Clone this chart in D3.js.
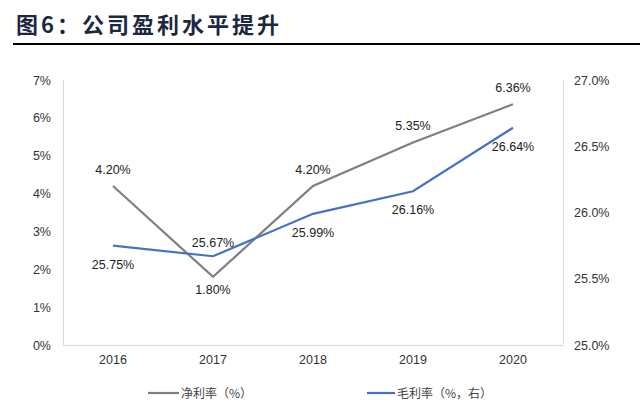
<!DOCTYPE html>
<html><head><meta charset="utf-8">
<script src="https://cdn.jsdelivr.net/npm/d3@7/dist/d3.min.js"></script>
<style>body{margin:0;background:#fff}svg{display:block}</style>
</head><body>
<svg id="c" width="640" height="419"></svg>
<script>
const years = ["2016","2017","2018","2019","2020"];
const netMargin = [4.20, 1.80, 4.20, 5.35, 6.36];
const grossMargin = [25.75, 25.67, 25.99, 26.16, 26.64];
const leftTicks = [0,1,2,3,4,5,6,7];
const rightTicks = [25.0,25.5,26.0,26.5,27.0];
const netLabelPos = ["above","below","above","above","above"];
const grossLabelPos = ["below","above","below","below","below"];
const seriesNames = ["净利率（%）","毛利率（%，右）"];
const title = "图6：公司盈利水平提升";

(function(){
const svg = d3.select("#c");
const font = "Liberation Sans, Arial, sans-serif";
const fs = 12.5;
const pL = 63, pR = 563, pT = 80, pB = 345;
const x = d3.scaleBand().domain(years).range([pL, pR]);
const yL = d3.scaleLinear().domain([0,7]).range([pB, pT]);
const yR = d3.scaleLinear().domain([25,27]).range([pB, pT]);
const cx = d => x(d) + x.bandwidth()/2;

// title
svg.append("text").attr("x",16).attr("y",33).attr("font-family","Noto Sans CJK SC")
  .attr("font-weight","bold").attr("font-size",22).attr("letter-spacing",3).attr("fill","#1c2740").text(title);
svg.append("line").attr("x1",13).attr("x2",640).attr("y1",44).attr("y2",44).attr("stroke","#000").attr("stroke-width",2);

// axes lines
const ax = svg.append("g").attr("stroke","#d9d9d9").attr("stroke-width",1);
ax.append("line").attr("x1",pL+0.5).attr("x2",pL+0.5).attr("y1",pT).attr("y2",pB);
ax.append("line").attr("x1",pR+0.5).attr("x2",pR+0.5).attr("y1",pT).attr("y2",pB);
ax.append("line").attr("x1",pL).attr("x2",pR).attr("y1",pB+0.5).attr("y2",pB+0.5);

// tick labels
svg.append("g").selectAll("text").data(leftTicks).join("text")
  .attr("x",51).attr("y",d=>yL(d)+4.5).attr("text-anchor","end")
  .attr("font-family",font).attr("font-size",fs).attr("fill","#333").text(d=>d+"%");
svg.append("g").selectAll("text").data(rightTicks).join("text")
  .attr("x",574).attr("y",d=>yR(d)+4.5).attr("text-anchor","start")
  .attr("font-family",font).attr("font-size",fs).attr("fill","#333").text(d=>d.toFixed(1)+"%");
svg.append("g").selectAll("text").data(years).join("text")
  .attr("x",d=>cx(d)).attr("y",364).attr("text-anchor","middle")
  .attr("font-family",font).attr("font-size",fs).attr("fill","#333").text(d=>d);

// lines
const lineL = d3.line().x((d,i)=>cx(years[i])).y(d=>yL(d));
const lineR = d3.line().x((d,i)=>cx(years[i])).y(d=>yR(d));
svg.append("path").attr("d",lineL(netMargin)).attr("fill","none").attr("stroke","#7f7f7f").attr("stroke-width",2.2);
svg.append("path").attr("d",lineR(grossMargin)).attr("fill","none").attr("stroke","#4472c4").attr("stroke-width",2.2);

// data labels
svg.append("g").selectAll("text").data(netMargin).join("text")
  .attr("x",(d,i)=>cx(years[i])).attr("y",(d,i)=>netLabelPos[i]==="above"? yL(d)-12 : yL(d)+17)
  .attr("text-anchor","middle").attr("font-family",font).attr("font-size",fs).attr("fill","#222")
  .text(d=>d.toFixed(2)+"%");
svg.append("g").selectAll("text").data(grossMargin).join("text")
  .attr("x",(d,i)=>cx(years[i])).attr("y",(d,i)=>grossLabelPos[i]==="above"? yR(d)-9 : yR(d)+23)
  .attr("text-anchor","middle").attr("font-family",font).attr("font-size",fs).attr("fill","#222")
  .text(d=>d.toFixed(2)+"%");

// legend
const leg = [{c:"#7f7f7f",x1:148,x2:179,t:seriesNames[0]},{c:"#4472c4",x1:367,x2:395,t:seriesNames[1]}];
const lg = svg.append("g");
leg.forEach(l=>{
  lg.append("line").attr("x1",l.x1).attr("x2",l.x2).attr("y1",393).attr("y2",393).attr("stroke",l.c).attr("stroke-width",2.2);
  lg.append("text").attr("x",l.x2+2).attr("y",397.5).attr("font-family","Noto Sans CJK SC").attr("font-size",12).attr("fill","#444").text(l.t);
});
})();
</script>
</body></html>
